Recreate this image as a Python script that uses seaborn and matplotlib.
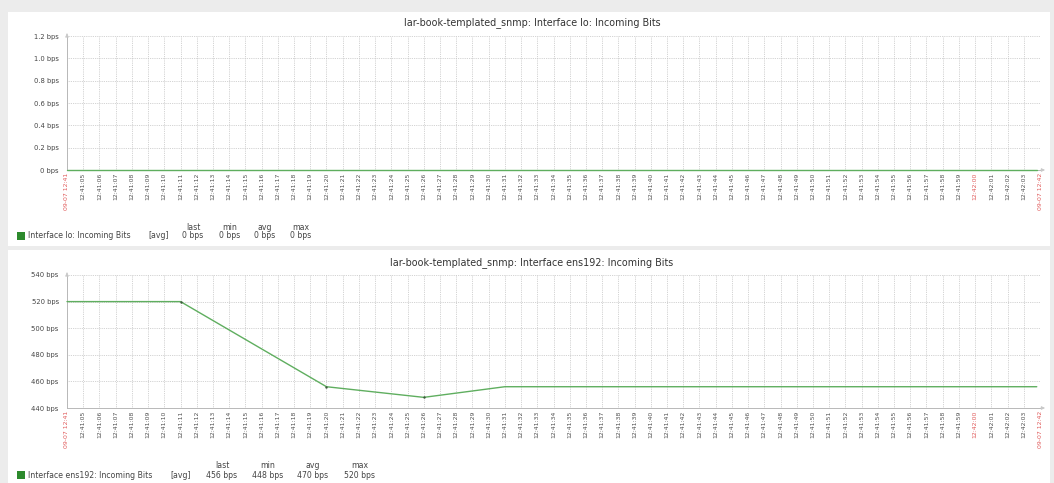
import pandas as pd
import numpy as np
import matplotlib.pyplot as plt
import seaborn as sns
from matplotlib.patches import Rectangle

# tiempo en segundos desde 09-07 12:41:04
lo_seg = [0, 59.8]
lo_bps = [0, 0]

ens_seg = [0, 7, 16, 22, 27, 59.8]
ens_bps = [520, 520, 456, 448, 456, 456]
ens_pts_seg = [7, 16, 22]
ens_pts_bps = [520, 456, 448]

tick_seg = list(range(61))
tick_txt = ["09-07 12:41"] + ["12:41:%02d" % s for s in range(5, 60)] + ["12:42:00", "12:42:01", "12:42:02", "12:42:03", "09-07 12:42"]
tick_rojo = ["09-07 12:41", "12:42:00", "09-07 12:42"]

lo_yticks = [0, 0.2, 0.4, 0.6, 0.8, 1.0, 1.2]
lo_ylabels = ["0 bps", "0.2 bps", "0.4 bps", "0.6 bps", "0.8 bps", "1.0 bps", "1.2 bps"]
ens_yticks = [440, 460, 480, 500, 520, 540]
ens_ylabels = ["440 bps", "460 bps", "480 bps", "500 bps", "520 bps", "540 bps"]

titulos = ["lar-book-templated_snmp: Interface lo: Incoming Bits",
           "lar-book-templated_snmp: Interface ens192: Incoming Bits"]
leyendas = ["Interface lo: Incoming Bits", "Interface ens192: Incoming Bits"]
col_stats = ["last", "min", "avg", "max"]
lo_stats = ["0 bps", "0 bps", "0 bps", "0 bps"]
ens_stats = ["456 bps", "448 bps", "470 bps", "520 bps"]

sns.set_style("white")
plt.rcParams['font.family'] = ['DejaVu Sans']

verde = '#5fae5f'
rojo = '#e05a5a'
gris = '#505050'

W, H = 1054, 483
fig = plt.figure(figsize=(10.54, 4.83), dpi=100, facecolor='#ececec')

def px(x, y):
    return x / W, 1 - y / H

# paneles blancos
for y0, y1 in [(12, 246), (250, 483)]:
    fig.patches.append(Rectangle((8 / W, 1 - y1 / H), (1050 - 8) / W, (y1 - y0) / H,
                                 transform=fig.transFigure, facecolor='white', edgecolor='none', zorder=-5))

ax1 = fig.add_axes([67 / W, 1 - 170 / H, (1040 - 67) / W, (170 - 36) / H])
ax2 = fig.add_axes([67 / W, 1 - 408 / H, (1040 - 67) / W, (408 - 275) / H])


def panel(ax, seg, bps, yticks, ylabels):
    df = pd.DataFrame({"seg": seg, "bps": bps})
    sns.lineplot(data=df, x="seg", y="bps", ax=ax, color=verde, linewidth=1.0, zorder=3)
    ax.lines[0].set_clip_on(False)
    ax.set_xlim(0, 60)
    ax.set_ylim(yticks[0], yticks[-1])
    ax.set_xticks(tick_seg)
    ax.set_xticklabels(tick_txt, rotation=90, fontsize=4.4, va='top', ha='center')
    for t in ax.get_xticklabels():
        t.set_color(rojo if t.get_text() in tick_rojo else gris)
    ax.set_yticks(yticks)
    ax.set_yticklabels(ylabels, fontsize=4.9, color='#444444')
    ax.tick_params(axis='x', length=0, pad=2)
    ax.tick_params(axis='y', length=0, pad=6)
    ax.grid(True, linestyle=(0, (1, 1.2)), color='#c4c4c4', linewidth=0.6)
    ax.set_xlabel("")
    ax.set_ylabel("")
    ax.set_facecolor('none')
    for s in ['top', 'right']:
        ax.spines[s].set_visible(False)
    for s in ['left', 'bottom']:
        ax.spines[s].set_color('#b8b8b8')
        ax.spines[s].set_linewidth(0.7)
        ax.spines[s].set_zorder(1)
    ax.annotate('', xy=(0, 1.04), xytext=(0, 0.99), xycoords='axes fraction',
                arrowprops=dict(arrowstyle='-|>', color='#c8c8c8', lw=0.6, mutation_scale=5))
    ax.annotate('', xy=(1.008, 0), xytext=(0.998, 0), xycoords='axes fraction',
                arrowprops=dict(arrowstyle='-|>', color='#c8c8c8', lw=0.6, mutation_scale=5))


panel(ax1, lo_seg, lo_bps, lo_yticks, lo_ylabels)
panel(ax2, ens_seg, ens_bps, ens_yticks, ens_ylabels)
sns.scatterplot(x=ens_pts_seg, y=ens_pts_bps, ax=ax2, color='#3c5a3c', s=3, linewidth=0, zorder=4)

# titulos
for y, t in [(23, titulos[0]), (263, titulos[1])]:
    fig.text(*px(532, y), t, ha='center', va='center', fontsize=6.9, color='#333333')

# leyendas
leg = [(227, 236, leyendas[0], lo_stats, [193, 230, 265, 301], 148),
       (465, 475, leyendas[1], ens_stats, [222, 268, 313, 360], 170)]
for yh, yr, nombre, stats, xs, xavg in leg:
    fig.patches.append(Rectangle(px(17, yr + 4), 8 / W, 8 / H, transform=fig.transFigure,
                                 facecolor='#2d8a2d', edgecolor='none'))
    fig.text(*px(28, yr), nombre, ha='left', va='center', fontsize=5.6, color='#444444')
    fig.text(*px(xavg, yr), "[avg]", ha='left', va='center', fontsize=5.6, color='#444444')
    for x, c, v in zip(xs, col_stats, stats):
        fig.text(*px(x, yh), c, ha='center', va='center', fontsize=5.6, color='#444444')
        fig.text(*px(x, yr), v, ha='center', va='center', fontsize=5.6, color='#444444')

fig.savefig("out.png", dpi=100, facecolor=fig.get_facecolor())
